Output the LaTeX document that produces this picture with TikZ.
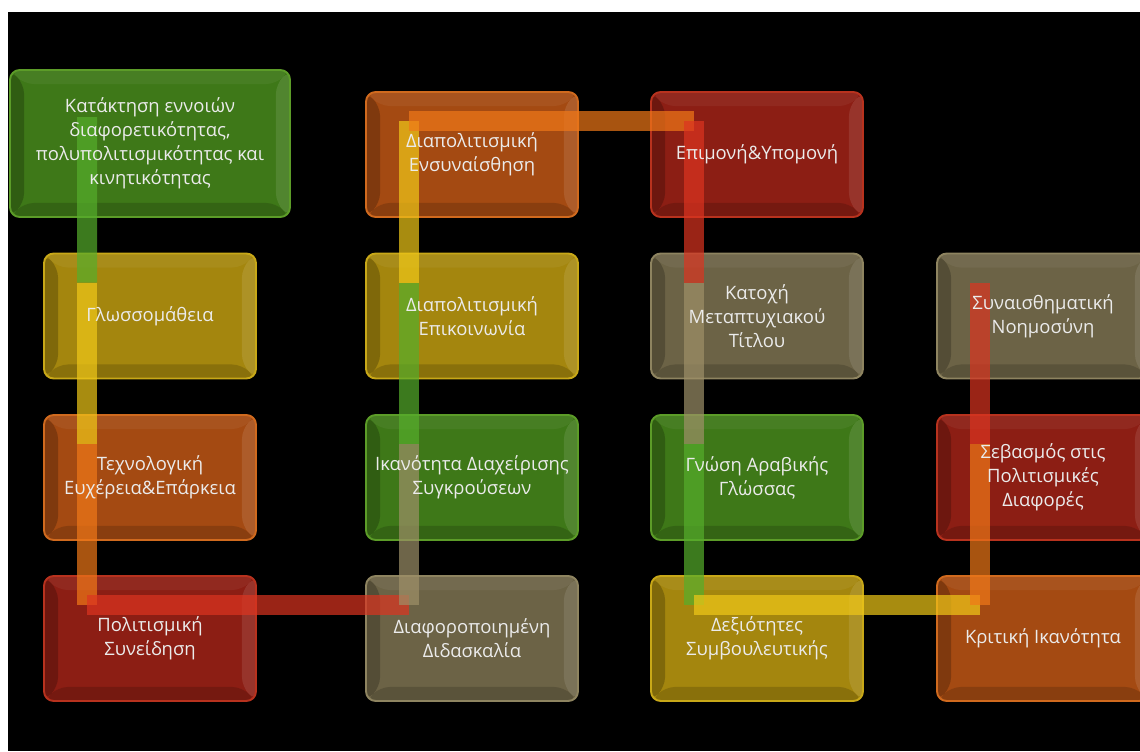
\documentclass[tikz,border=0pt]{standalone}
\usepackage{fontspec}
\setmainfont{Open Sans}
\usepackage{tikz}
\usetikzlibrary{positioning}

\definecolor{boxgreen}{RGB}{62,120,24}
\definecolor{edgegreen}{RGB}{92,156,40}
\definecolor{boxyellow}{RGB}{164,134,14}
\definecolor{edgeyellow}{RGB}{200,168,24}
\definecolor{boxorange}{RGB}{164,74,18}
\definecolor{edgeorange}{RGB}{208,106,30}
\definecolor{boxred}{RGB}{140,30,20}
\definecolor{edgered}{RGB}{184,50,30}
\definecolor{boxtan}{RGB}{108,99,70}
\definecolor{edgetan}{RGB}{142,132,96}
\definecolor{bargreen}{RGB}{86,174,43}
\definecolor{baryellow}{RGB}{240,200,24}
\definecolor{barorange}{RGB}{240,120,24}
\definecolor{barred}{RGB}{220,52,32}
\definecolor{bartan}{RGB}{158,144,104}

\begin{document}
\begin{tikzpicture}[x=0.02cm, y=-0.02cm,
  box/.style={draw, rounded corners=5.5pt, line width=1.1pt, minimum width=4.24cm, minimum height=2.5cm, inner sep=0pt, bevel},
  bevel/.style={path picture={
    \fill[black, opacity=0.22] (path picture bounding box.north west) -- ([shift={(14,14)}]path picture bounding box.north west)
      -- ([shift={(14,-14)}]path picture bounding box.south west) -- (path picture bounding box.south west) -- cycle;
    \fill[black, opacity=0.16] (path picture bounding box.south west) -- ([shift={(14,-14)}]path picture bounding box.south west)
      -- ([shift={(-14,-14)}]path picture bounding box.south east) -- (path picture bounding box.south east) -- cycle;
    \fill[white, opacity=0.10] (path picture bounding box.north east) -- ([shift={(-14,14)}]path picture bounding box.north east)
      -- ([shift={(-14,-14)}]path picture bounding box.south east) -- (path picture bounding box.south east) -- cycle;
    \fill[white, opacity=0.05] (path picture bounding box.north west) -- ([shift={(14,14)}]path picture bounding box.north west)
      -- ([shift={(-14,14)}]path picture bounding box.north east) -- (path picture bounding box.north east) -- cycle;
  }},
  cgreen/.style={fill=boxgreen, draw=edgegreen},
  cyellow/.style={fill=boxyellow, draw=edgeyellow},
  corange/.style={fill=boxorange, draw=edgeorange},
  cred/.style={fill=boxred, draw=edgered},
  ctan/.style={fill=boxtan, draw=edgetan},
  lbl/.style={font=\fontsize{10.5}{13.6}\selectfont, text=white!92!black, align=center},
  bar/.style={line width=0.4cm, opacity=0.7}
]
% Canvas
\fill[white] (0,0) rectangle (1140,751);
\fill[black] (8,12) rectangle (1140,751);
\useasboundingbox (0,0) rectangle (1140,751);
\clip (0,0) rectangle (1140,751);

% Boxes - column 1
\node[box, cgreen, minimum width=5.6cm, minimum height=2.94cm] (b1) at (150,143.5) {};
\node[box, cyellow] (b2) at (150,316) {};
\node[box, corange] (b3) at (150,477.5) {};
\node[box, cred]    (b4) at (150,638.5) {};

% Boxes - column 2
\node[box, ctan]    (b5) at (472,638.5) {};
\node[box, cgreen]  (b6) at (472,477.5) {};
\node[box, cyellow] (b7) at (472,316) {};
\node[box, corange] (b8) at (472,154.5) {};

% Boxes - column 3
\node[box, cred]    (b9)  at (757,154.5) {};
\node[box, ctan]    (b10) at (757,316) {};
\node[box, cgreen]  (b11) at (757,477.5) {};
\node[box, cyellow] (b12) at (757,638.5) {};

% Boxes - column 4
\node[box, corange] (b13) at (1043,638.5) {};
\node[box, cred]    (b14) at (1043,477.5) {};
\node[box, ctan]    (b15) at (1043,316) {};

% Bar joints
\coordinate (p1) at ([shift={(78,48)}]b1.north west);
\foreach \i in {2,...,15}
  \coordinate (p\i) at ([shift={(44,30)}]b\i.north west);

% Bars
\foreach \a/\b/\c in {1/2/bargreen, 2/3/baryellow, 3/4/barorange, 4/5/barred, 5/6/bartan,
                      6/7/bargreen, 7/8/baryellow, 8/9/barorange, 9/10/barred, 10/11/bartan,
                      11/12/bargreen, 12/13/baryellow, 13/14/barorange, 14/15/barred}
  \draw[bar, \c] (p\a) -- (p\b);

% Labels
\node[lbl] (t1)  at (b1)  {Κατάκτηση εννοιών\\διαφορετικότητας,\\πολυπολιτισμικότητας και\\κινητικότητας};
\node[lbl] (t2)  at (b2)  {Γλωσσομάθεια};
\node[lbl] (t3)  at (b3)  {Τεχνολογική\\Ευχέρεια\&Επάρκεια};
\node[lbl] (t4)  at (b4)  {Πολιτισμική\\Συνείδηση};
\node[lbl] (t5)  at (b5)  {Διαφοροποιημένη\\Διδασκαλία};
\node[lbl] (t6)  at (b6)  {Ικανότητα Διαχείρισης\\Συγκρούσεων};
\node[lbl] (t7)  at (b7)  {Διαπολιτισμική\\Επικοινωνία};
\node[lbl] (t8)  at (b8)  {Διαπολιτισμική\\Ενσυναίσθηση};
\node[lbl] (t9)  at (b9)  {Επιμονή\&Υπομονή};
\node[lbl] (t10) at (b10) {Κατοχή\\Μεταπτυχιακού\\Τίτλου};
\node[lbl] (t11) at (b11) {Γνώση Αραβικής\\Γλώσσας};
\node[lbl] (t12) at (b12) {Δεξιότητες\\Συμβουλευτικής};
\node[lbl] (t13) at (b13) {Κριτική Ικανότητα};
\node[lbl] (t14) at (b14) {Σεβασμός στις\\Πολιτισμικές\\Διαφορές};
\node[lbl] (t15) at (b15) {Συναισθηματική\\Νοημοσύνη};

\end{tikzpicture}
\end{document}
